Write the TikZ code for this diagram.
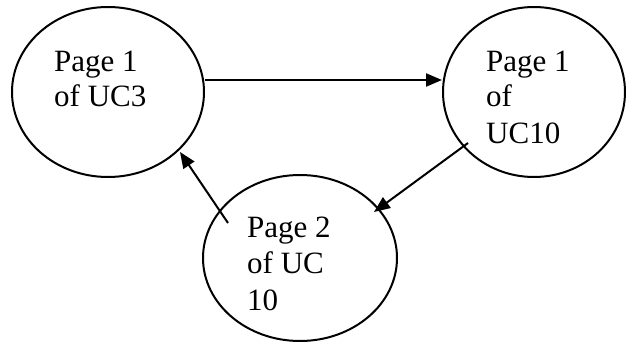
\documentclass[tikz,border=0pt]{standalone}
\usepackage{fontspec}
\setmainfont{Liberation Serif}
\usetikzlibrary{shapes.geometric,arrows.meta}
\begin{document}
\begin{tikzpicture}[x=1pt,y=-1pt,
  page/.style={draw,ellipse,line width=2pt,inner sep=0pt},
  txt/.style={anchor=base west,inner sep=0pt,font=\fontsize{31}{35}\selectfont},
  link/.style={line width=2pt,-{Triangle[length=16pt,width=13pt]}}]
\useasboundingbox (0,0) rectangle (626,342);
% states
\node[page,minimum width=192pt,minimum height=170pt] (uc3) at (108,92) {};
\node[page,minimum width=182pt,minimum height=170pt] (uc10a) at (534,92) {};
\node[page,minimum width=194pt,minimum height=166pt] (uc10b) at (300,258) {};
% labels
\node[txt] (t1a) at (54,72) {Page 1};
\node[txt] (t1b) at (54,107) {of UC3};
\node[txt] (t2a) at (486,72) {Page 1};
\node[txt] (t2b) at (486,107) {of};
\node[txt] (t2c) at (486,143) {UC10};
\node[txt] (t3a) at (247,237) {Page 2};
\node[txt] (t3b) at (247,273) {of UC};
\node[txt] (t3c) at (247,310) {10};
% transitions
\coordinate (s2) at (468,143);
\coordinate (s3) at (228,223);
\draw[link] (uc3.east |- 0,80) -- (uc10a.west |- 0,80);
\draw[link] (s2) -- (374,212) coordinate (e2);
\draw[link] (s3) -- (180,152) coordinate (e3);
\end{tikzpicture}
\end{document}
